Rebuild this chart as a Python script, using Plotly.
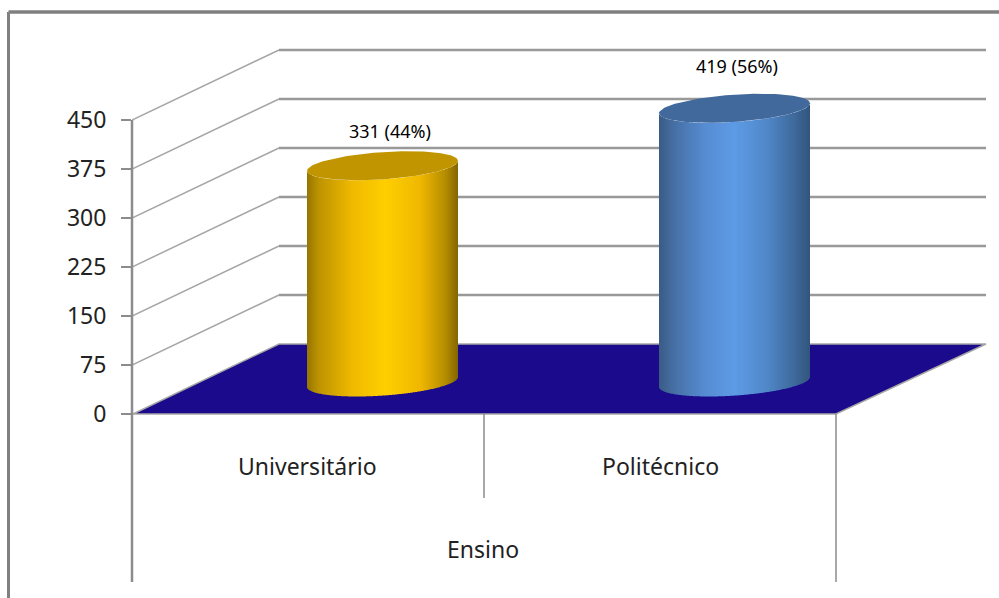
import numpy as np
import plotly.graph_objects as go

# Data
categories = ["Universitário", "Politécnico"]
group_label = "Ensino"
values = [331, 419]
y_ticks = [0, 75, 150, 225, 300, 375, 450]

# Scale and layout (pixels of a 999x598 figure)
W, H = 999, 598
Y0_PX, PX_PER_UNIT = 414, 49.0 / 75
AXIS_X = 132
px2val = lambda p: (Y0_PX - p) / PX_PER_UNIT
paper_x = lambda x: (x - AXIS_X) / (W - AXIS_X)
DEPTH = px2val(344)          # floor depth, in value units
BASE = px2val(382)           # cylinder base centre sits on the floor
centers = [382.5, 734.5]
HALF_W = 75.5
TILT, MINOR = 5 / PX_PER_UNIT, 13.6 / PX_PER_UNIT
stops = [
    [(0, (150, 118, 0)), (0.08, (190, 148, 0)), (0.3, (240, 186, 0)), (0.52, (255, 207, 0)),
     (0.75, (240, 184, 0)), (0.92, (180, 140, 0)), (1, (130, 102, 0))],
    [(0, (58, 92, 132)), (0.1, (70, 112, 165)), (0.3, (86, 140, 210)), (0.5, (94, 155, 230)),
     (0.72, (80, 135, 200)), (0.9, (62, 105, 155)), (1, (50, 85, 125))],
]
top_colors = ["#c19500", "#41699c"]
label_offsets = [(7, 35), (2, 42)]


def shade(t, s):
    ts = [a for a, _ in s]
    return "rgb(%d,%d,%d)" % tuple(np.interp(t, ts, [c[i] for _, c in s]) for i in range(3))


fig = go.Figure()
total = sum(values)
for name, v, cx, s, tc, (dx, dy) in zip(categories, values, centers, stops, top_colors, label_offsets):
    xs = np.arange(np.floor(cx - HALF_W), np.ceil(cx + HALF_W)) + 0.5
    u = np.clip((xs - cx) / HALF_W, -1, 1)
    lower = TILT * u - MINOR * np.sqrt(1 - u ** 2)
    fig.add_trace(go.Bar(
        x=xs, y=[v] * len(xs), base=BASE + lower, width=1, name=name,
        marker=dict(color=[shade((a + 1) / 2, s) for a in u], line=dict(width=0)),
        showlegend=False, hoverinfo="skip",
    ))
    t = np.linspace(0, 2 * np.pi, 120)
    fig.add_trace(go.Scatter(
        x=cx + HALF_W * np.cos(t),
        y=BASE + v + TILT * np.cos(t) + MINOR * np.sin(t),
        mode="lines", fill="toself", fillcolor=tc, line=dict(width=0, color=tc),
        showlegend=False, hoverinfo="skip",
    ))
    fig.add_annotation(
        x=cx + dx, y=BASE + v, yshift=dy, showarrow=False, yanchor="middle",
        text=f"{v} ({round(v / total * 100)}%)",
        font=dict(family="Noto Sans", size=18, color="#000"),
    )

shapes = []
for tick in y_ticks[1:]:
    shapes.append(dict(type="line", layer="below", x0=AXIS_X, x1=279, y0=tick, y1=tick + DEPTH, xref="x", yref="y", line=dict(color="#a6a6a6", width=1.5)))
    shapes.append(dict(type="line", layer="below", x0=279, x1=986, y0=tick + DEPTH, y1=tick + DEPTH, xref="x", yref="y", line=dict(color="#999999", width=2.5)))
# floor
shapes.append(dict(type="path", layer="below", xref="x", yref="y",
                   path=f"M {AXIS_X+1},0 L 836,0 L 986,{DEPTH} L 279,{DEPTH} Z",
                   fillcolor="#1b0a8b", line=dict(color="#a6a6a6", width=1.5)))
# frame and axis lines
AX = dict(color="#8c8c8c", width=2.5)
shapes += [
    dict(type="line", xref="paper", yref="y", x0=0, x1=0, y0=450, y1=px2val(582), line=AX),
    dict(type="line", xref="x", yref="y", x0=484, x1=484, y0=0, y1=px2val(498), line=dict(color="#8c8c8c", width=1.5)),
    dict(type="line", xref="x", yref="y", x0=836, x1=836, y0=0, y1=px2val(582), line=dict(color="#8c8c8c", width=1.5)),
    dict(type="line", xref="paper", yref="paper", x0=paper_x(8.5), x1=1, y0=1 - 12 / H, y1=1 - 12 / H, line=dict(color="#808080", width=3.5)),
    dict(type="line", xref="paper", yref="paper", x0=paper_x(8.5), x1=paper_x(8.5), y0=0, y1=1 - 12 / H, line=dict(color="#808080", width=3)),
]

for name, x, px in zip(categories, [307.5, 660.5], [466, 466]):
    fig.add_annotation(x=x, y=px2val(px), text=name, showarrow=False,
                       font=dict(family="Noto Sans", size=23, color="#222"))
fig.add_annotation(x=483, y=px2val(549), text=group_label, showarrow=False,
                   font=dict(family="Noto Sans", size=23, color="#222"))

fig.update_layout(
    width=W, height=H, margin=dict(l=AXIS_X, r=0, t=0, b=0),
    paper_bgcolor="white", plot_bgcolor="white", barmode="overlay", shapes=shapes,
    xaxis=dict(range=[AXIS_X, W], visible=False, fixedrange=True),
    yaxis=dict(range=[px2val(H), px2val(0)], tickvals=y_ticks, showgrid=False, zeroline=False,
               ticks="outside", ticklen=10, tickwidth=2, tickcolor="#8c8c8c", showline=False,
               ticklabelstandoff=10,
               tickfont=dict(family="Noto Sans", size=23, color="#222"), fixedrange=True),
)
fig.write_html("out.html", config=dict(displayModeBar=False),
               post_script="document.body.style.margin='0';")
